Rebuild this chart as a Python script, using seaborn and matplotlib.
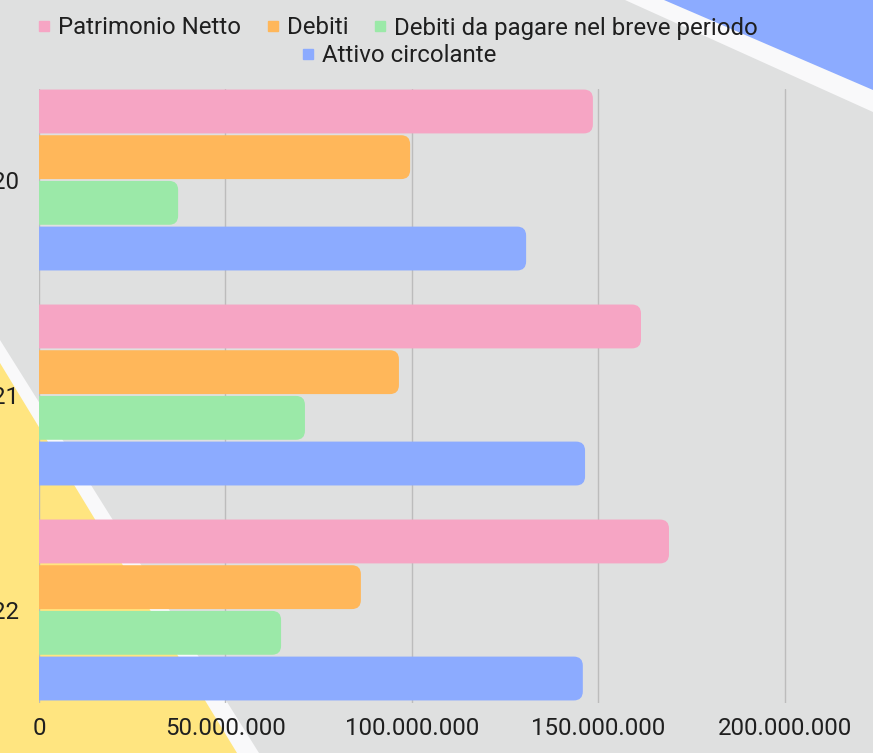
# bilancio_barre.py
import pandas as pd
import matplotlib.pyplot as plt
import seaborn as sns
from matplotlib.patches import FancyBboxPatch, Polygon
from matplotlib.lines import Line2D
from matplotlib.ticker import FuncFormatter

# Data
years = ["2020", "2021", "2022"]
series = ["Patrimonio Netto", "Debiti", "Debiti da pagare nel breve periodo", "Attivo circolante"]
patrimonio_netto = [148.5e6, 161.4e6, 168.9e6]
debiti = [99.5e6, 96.5e6, 86.3e6]
debiti_breve = [37.3e6, 71.3e6, 64.9e6]
attivo_circolante = [130.6e6, 146.4e6, 145.8e6]
colors = ["#f6a5c4", "#ffb75a", "#9be9a8", "#8cabff"]

rows = []
for name, vals in zip(series, [patrimonio_netto, debiti, debiti_breve, attivo_circolante]):
    for y, v in zip(years, vals):
        rows.append({"anno": y, "serie": name, "valore": v})
df = pd.DataFrame(rows)

sns.set_theme(style="white")
plt.rcParams['font.family'] = ['Roboto', 'DejaVu Sans']
text_color = "#1f1f1f"
bg = "#dfe0e0"
W, H = 873, 753

fig = plt.figure(figsize=(W / 100, H / 100), dpi=100, facecolor=bg)

# decorative background shapes (pixel coords -> figure fraction)
def fpoly(pts, color):
    p = Polygon([(x / W, 1 - y / H) for x, y in pts], closed=True,
                transform=fig.transFigure, facecolor=color, edgecolor="none", zorder=-2)
    fig.add_artist(p)

fpoly([(625, 0), (873, 0), (873, 112)], "#f9f9fa")
fpoly([(664, 0), (873, 0), (873, 90)], "#8cabff")
fpoly([(0, 340), (259, 753), (0, 753)], "#f9f9fa")
fpoly([(0, 363), (237, 753), (0, 753)], "#ffe580")

ax = fig.add_axes([39 / W, 1 - 703 / H, 1 - 39 / W, (703 - 89) / H])
ax.set_facecolor("none")

sns.barplot(data=df, y="anno", x="valore", hue="serie", hue_order=series,
            palette=colors, orient="h", width=0.85, gap=0.04, linewidth=0,
            saturation=1, legend=False, ax=ax, zorder=3)

xmax = 223.6e6
ax.set_xlim(0, xmax)
ax.set_ylim(2.4326, -0.4233)

# rounded right ends on the bars
ax_w_px = W - 39
ax_h_px = 703 - 89
x_per_px = xmax / ax_w_px
y_per_px = (2.4326 + 0.4233) / ax_h_px
r = 9 * x_per_px
for p in list(ax.patches):
    x0, y0, w, h = p.get_x(), p.get_y(), p.get_width(), p.get_height()
    fc = p.get_facecolor()
    p.set_visible(False)
    rb = FancyBboxPatch((x0 - 3 * r, y0), w + 3 * r, h,
                        boxstyle=f"round,pad=0,rounding_size={r}",
                        mutation_aspect=y_per_px / x_per_px,
                        facecolor=fc, edgecolor="none", zorder=3)
    ax.add_patch(rb)

ax.set_xticks([0, 50e6, 100e6, 150e6, 200e6])
ax.xaxis.set_major_formatter(FuncFormatter(lambda v, p: f"{int(v):,}".replace(",", ".")))
ax.grid(axis="x", color="#bcbcbc", linewidth=1)
ax.grid(axis="y", visible=False)
ax.set_axisbelow(True)
for s in ax.spines.values():
    s.set_visible(False)
ax.set_xlabel("")
ax.set_ylabel("")
ax.tick_params(axis="x", length=0, pad=10, labelsize=17.3, labelcolor=text_color)
ax.tick_params(axis="y", length=0, pad=13.7, labelsize=17.3, labelcolor=text_color)

# legend in two centered rows
handles = [Line2D([], [], marker="s", ls="", color=c, markersize=7.2) for c in colors]
kw = dict(frameon=False, fontsize=17.3, handlelength=0.42, handletextpad=0.37,
          columnspacing=1.1, borderpad=0, borderaxespad=0, labelcolor=text_color)
leg1 = fig.legend(handles[:3], series[:3], ncol=3, loc="center",
                  bbox_to_anchor=(398.5 / W, 1 - 28 / H), **kw)
leg2 = fig.legend(handles[3:], series[3:], ncol=1, loc="center",
                  bbox_to_anchor=(400 / W, 1 - 56 / H), **kw)

fig.savefig("out.png", dpi=100, facecolor=bg)
